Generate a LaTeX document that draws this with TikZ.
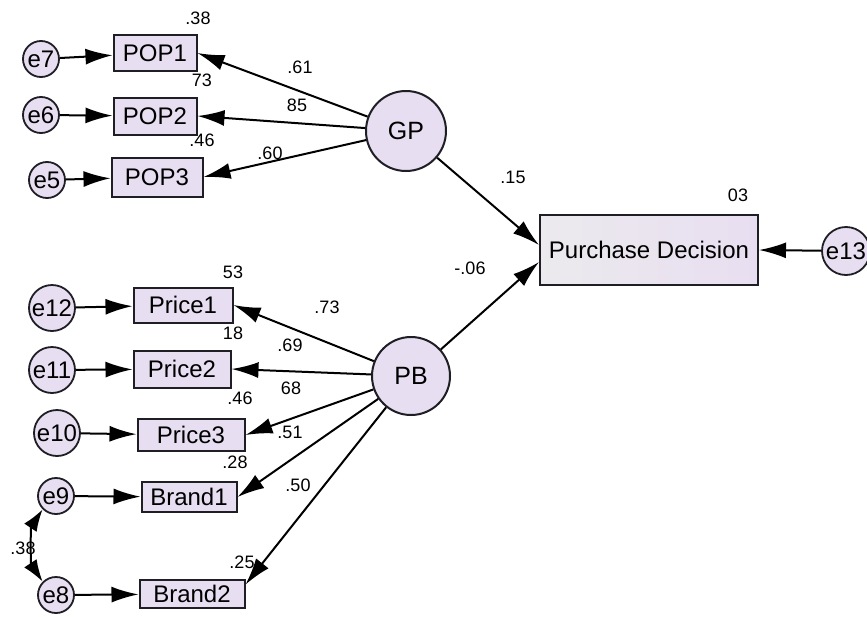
\documentclass[tikz,border=0pt]{standalone}
\usepackage{fontspec}
\setmainfont{Liberation Sans}
\usetikzlibrary{arrows.meta, positioning}
\definecolor{semfill}{HTML}{E8DEF1}
\definecolor{semedge}{HTML}{1E1E24}

\begin{document}
\begin{tikzpicture}[x=1pt, y=-1pt,
  obs/.style={draw=semedge, line width=2pt, fill=semfill, inner sep=0pt,
    minimum height=34pt, font=\fontsize{24}{26}\selectfont},
  err/.style={circle, draw=semedge, line width=1.8pt, fill=semfill, inner sep=0pt,
    minimum size=36pt, font=\fontsize{24}{26}\selectfont},
  lat/.style={circle, draw=semedge, line width=2pt, fill=semfill,
    minimum size=80pt, font=\fontsize{25}{27}\selectfont},
  arr/.style={-{Latex[length=27pt, width=16pt]}, line width=2pt, draw=black},
  cov/.style={{Latex[length=22pt, width=15pt]}-{Latex[length=22pt, width=15pt]},
    line width=2pt, draw=black},
  coef/.style={inner sep=0pt, font=\fontsize{18}{20}\selectfont}]
  \useasboundingbox[fill=white] (0,0) rectangle (867,616);

  % latent factors
  \node[lat] (gp) at (406,131) {GP};
  \node[lat, minimum size=78pt] (pb) at (411,376) {PB};
  \node[obs, minimum width=218pt, minimum height=70pt,
    left color=semfill!60!gray!30, right color=semfill] (pd) at (649,250) {Purchase Decision};
  \node[err, minimum size=48pt] (e13) at (846,251) {e13};

  % GP indicators
  \node[obs, minimum width=83pt, minimum height=36pt] (pop1) at (155,53) {POP1};
  \node[obs, minimum width=83pt, minimum height=37pt] (pop2) at (155,116) {POP2};
  \node[obs, minimum width=91pt, minimum height=39pt] (pop3) at (157,177) {POP3};
  \node[err] (e7) at (41,59) {e7};
  \node[err] (e6) at (41,115) {e6};
  \node[err] (e5) at (47,180) {e5};

  % PB indicators
  \node[obs, minimum width=99pt, minimum height=35pt] (price1) at (183,305) {Price1};
  \node[obs, minimum width=97pt, minimum height=37pt] (price2) at (182,369) {Price2};
  \node[obs, minimum width=107pt, minimum height=32pt] (price3) at (191,435) {Price3};
  \node[obs, minimum width=95pt, minimum height=30pt] (brand1) at (189,497) {Brand1};
  \node[obs, minimum width=105pt, minimum height=28pt] (brand2) at (192,594) {Brand2};
  \node[err, minimum size=46pt] (e12) at (52,308) {e12};
  \node[err, minimum size=46pt] (e11) at (52,370) {e11};
  \node[err, minimum size=46pt] (e10) at (57,433) {e10};
  \node[err, minimum size=36pt] (e9) at (56,496) {e9};
  \node[err, minimum size=36pt] (e8) at (56,595) {e8};

  % loadings
  \draw[arr] (gp) -- (pop1.east);
  \draw[arr] (gp) -- (pop2.east);
  \draw[arr] (gp) -- (pop3.east);
  \draw[arr] (pb) -- (price1.east);
  \draw[arr] (pb) -- (price2.east);
  \draw[arr] (pb) -- (price3.east);
  \draw[arr] (pb) -- (brand1.east);
  \draw[arr] (pb) -- (brand2.10);
  \draw[arr] (gp) -- ([yshift=5pt]pd.west);
  \draw[arr] (pb) -- ([yshift=-12pt]pd.west);

  % errors
  \foreach \e/\v in {e7/pop1, e6/pop2, e5/pop3, e12/price1, e11/price2,
      e10/price3, e9/brand1, e8/brand2}
    \draw[arr] (\e) -- (\v);
  \draw[arr] (e13) -- (pd.east);
  \draw[cov] (e9.south west) .. controls +(-12,18) and +(-12,-18) .. (e8.north west);

  % estimates
  \node[coef] (r1) at (198,18) {.38};
  \node[coef] (r2) at (202,80) {73};
  \node[coef] (r3) at (202,140) {.46};
  \node[coef] (w1) at (300,67) {.61};
  \node[coef] (w2) at (297,105) {85};
  \node[coef] (w3) at (270,153) {.60};
  \node[coef] (b1) at (513,177) {.15};
  \node[coef] (r13) at (738,195) {03};
  \node[coef] (b2) at (470,268) {-.06};
  \node[coef] (r4) at (233,272) {53};
  \node[coef] (w4) at (327,307) {.73};
  \node[coef] (r5) at (233,333) {18};
  \node[coef] (w5) at (290,345) {.69};
  \node[coef] (w6) at (291,388) {68};
  \node[coef] (r6) at (240,398) {.46};
  \node[coef] (w7) at (290,432) {.51};
  \node[coef] (r7) at (235,462) {.28};
  \node[coef] (w8) at (298,485) {.50};
  \node[coef] (r8) at (242,562) {.25};
  \node[coef] (c1) at (23,548) {.38};
\end{tikzpicture}
\end{document}
